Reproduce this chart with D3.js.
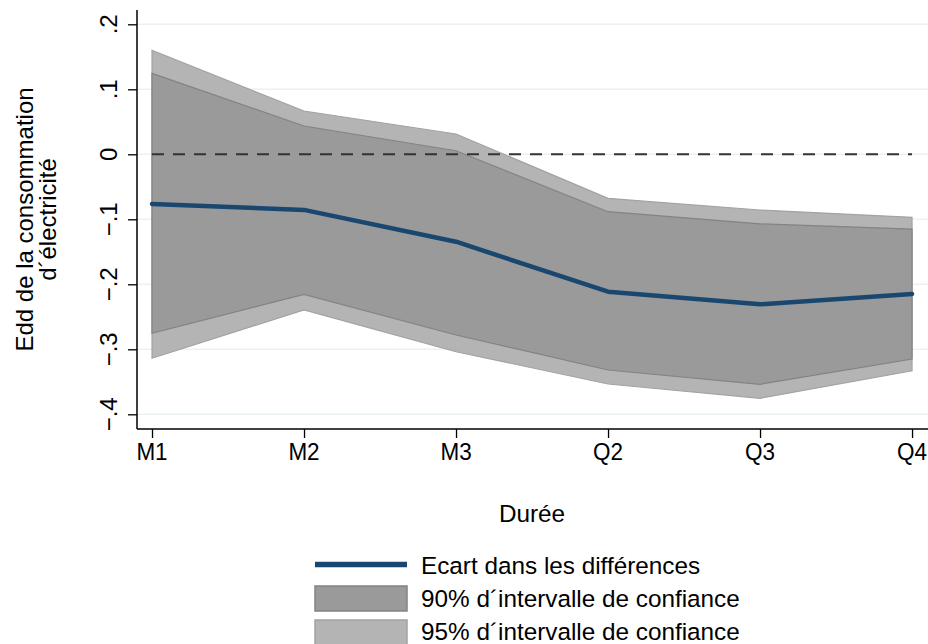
<!DOCTYPE html>
<html lang="fr">
<head>
<meta charset="UTF-8">
<title>Ecart dans les différences</title>
<script src="https://d3js.org/d3.v7.min.js"></script>
<style>
    body { margin: 0; background: #fff; }
    svg { display: block; font-family: "Liberation Sans", Arial, sans-serif; }
    .lbl { font-size: 22.5px; fill: #000; }
    .vl { font-size: 24px; fill: #000; }
    .big { font-size: 24.3px; fill: #000; }
</style>
</head>
<body>
<svg width="928" height="644"></svg>
<script>
    // data
    var categories = ["M1", "M2", "M3", "Q2", "Q3", "Q4"];
    var estimate = [-0.0765, -0.0855, -0.1345, -0.2114, -0.2308, -0.2149];
    var lower90 = [-0.2754, -0.2154, -0.2780, -0.3318, -0.3538, -0.3150];
    var upper90 = [0.1246, 0.0435, 0.0055, -0.0883, -0.1070, -0.1150];
    var lower95 = [-0.3138, -0.2395, -0.3037, -0.3534, -0.3754, -0.3330];
    var upper95 = [0.1600, 0.0666, 0.0312, -0.0677, -0.0857, -0.0969];
    var yTicks = [-0.4, -0.3, -0.2, -0.1, 0, 0.1, 0.2];
    var legendLabels = ["Ecart dans les différences", "90% d´intervalle de confiance", "95% d´intervalle de confiance"];

    var svg = d3.select("svg");
    var pLeft = 137, pRight = 928, pTop = 10, pBottom = 429;

    var x = d3.scaleLinear().domain([-0.0987, 5.105]).range([pLeft, pRight]);
    var y = d3.scaleLinear().domain([-0.4226, 0.222]).range([pBottom, pTop]);

    var rows = categories.map(function(c, i) {
        return { i: i, est: estimate[i], lo90: lower90[i], hi90: upper90[i], lo95: lower95[i], hi95: upper95[i] };
    });

    function fmt(v) {
        if (Math.abs(v) < 1e-9) return "0";
        var s = d3.format(".1f")(Math.abs(v)).replace(/^0/, "");
        return (v < 0 ? "\u2212" : "") + s;
    }

    // gridlines
    svg.append("g").selectAll("line").data(yTicks).enter().append("line")
        .attr("x1", pLeft + 1).attr("x2", pRight)
        .attr("y1", function(d) { return y(d); }).attr("y2", function(d) { return y(d); })
        .attr("stroke", "#eaf2f3").attr("stroke-width", 1.5);

    // confidence bands
    var area95 = d3.area().x(function(d) { return x(d.i); })
        .y0(function(d) { return y(d.lo95); }).y1(function(d) { return y(d.hi95); });
    var area90 = d3.area().x(function(d) { return x(d.i); })
        .y0(function(d) { return y(d.lo90); }).y1(function(d) { return y(d.hi90); });

    svg.append("path").datum(rows).attr("d", area95)
        .attr("fill", "#b4b4b4").attr("stroke", "#a3a3a3").attr("stroke-width", 1.2);
    svg.append("path").datum(rows).attr("d", area90)
        .attr("fill", "#9a9a9a").attr("stroke", "#838383").attr("stroke-width", 1.2);

    // zero reference line
    svg.append("line")
        .attr("x1", x(0)).attr("x2", x(5))
        .attr("y1", y(0)).attr("y2", y(0))
        .attr("stroke", "#333").attr("stroke-width", 2)
        .attr("stroke-dasharray", "12,9");

    // estimate line
    svg.append("path").datum(rows)
        .attr("d", d3.line().x(function(d) { return x(d.i); }).y(function(d) { return y(d.est); }))
        .attr("fill", "none").attr("stroke", "#1a476f").attr("stroke-width", 4.5)
        .attr("stroke-linejoin", "round").attr("stroke-linecap", "round");

    // y axis
    var yAxis = svg.append("g").attr("transform", "translate(" + pLeft + ",0)")
        .call(d3.axisLeft(y).tickValues(yTicks).tickSize(9).tickFormat(""));
    yAxis.select(".domain").attr("d", "M0," + pTop + "V" + pBottom).attr("stroke", "#000").attr("stroke-width", 1.5);
    yAxis.selectAll(".tick line").attr("stroke", "#000").attr("stroke-width", 1.3);

    svg.append("g").selectAll("text").data(yTicks).enter().append("text")
        .attr("class", "vl")
        .attr("text-anchor", "middle")
        .attr("transform", function(d) { return "translate(117," + y(d) + ") rotate(-90)"; })
        .text(fmt);

    // x axis
    var xAxis = svg.append("g").attr("transform", "translate(0," + pBottom + ")")
        .call(d3.axisBottom(x).tickValues(d3.range(categories.length)).tickSize(9).tickFormat(""));
    xAxis.select(".domain").attr("d", "M" + pLeft + ",0H" + pRight).attr("stroke", "#000").attr("stroke-width", 1.5);
    xAxis.selectAll(".tick line").attr("stroke", "#000").attr("stroke-width", 1.3);

    svg.append("g").selectAll("text").data(categories).enter().append("text")
        .attr("class", "lbl")
        .attr("text-anchor", "middle")
        .attr("transform", function(d, i) { return "translate(" + x(i) + ",460) scale(1,1.06)"; })
        .text(function(d) { return d; });

    // titles
    svg.append("text").attr("class", "big").attr("text-anchor", "middle")
        .attr("x", 532).attr("y", 521.5).text("Durée");
    svg.append("text").attr("class", "vl").attr("text-anchor", "middle")
        .attr("transform", "translate(33," + (pTop + pBottom) / 2 + ") rotate(-90)")
        .text("Edd de la consommation");
    svg.append("text").attr("class", "vl").attr("text-anchor", "middle")
        .attr("transform", "translate(56," + (pTop + pBottom) / 2 + ") rotate(-90)")
        .text("d´électricité");

    // legend
    var lg = svg.append("g");
    lg.append("line").attr("x1", 315).attr("x2", 407).attr("y1", 564.5).attr("y2", 564.5)
        .attr("stroke", "#1a476f").attr("stroke-width", 5.5);
    lg.append("rect").attr("x", 315).attr("y", 586).attr("width", 92).attr("height", 25)
        .attr("fill", "#9a9a9a").attr("stroke", "#838383").attr("stroke-width", 1.5);
    lg.append("rect").attr("x", 315).attr("y", 620).attr("width", 92).attr("height", 25)
        .attr("fill", "#b4b4b4").attr("stroke", "#a3a3a3").attr("stroke-width", 1.5);
    lg.selectAll("text").data(legendLabels).enter().append("text")
        .attr("class", "big")
        .attr("x", 421)
        .attr("y", function(d, i) { return [573.5, 607, 640][i]; })
        .text(function(d) { return d; });
</script>
</body>
</html>
